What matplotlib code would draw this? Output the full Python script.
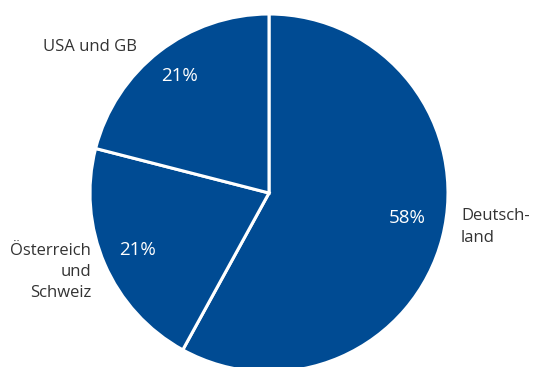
import matplotlib
matplotlib.use("Agg")
import matplotlib.pyplot as plt

categories = ["Deutsch-\nland", "Österreich\nund\nSchweiz", "USA und GB"]
values = [58, 21, 21]
pct_labels = ["58%", "21%", "21%"]

color = "#004B93"
plt.rcParams['font.family'] = ['Open Sans', 'DejaVu Sans']

fig = plt.figure(figsize=(5.34, 3.67), dpi=100)
ax = fig.add_axes([0, 0, 1, 1])

cx, cy, r = 269, 193, 179
# y axis is inverted, so startangle=-90 points up and counterclock appears clockwise
wedges, _ = ax.pie(values, center=(cx, cy), radius=r, startangle=-90, counterclock=True,
                   colors=[color] * 3,
                   wedgeprops=dict(edgecolor='white', linewidth=2.2), frame=True)
ax.set_xlim(0, 534)
ax.set_ylim(367, 0)
ax.set_aspect('equal')
ax.axis('off')

ax.text(407, 218, pct_labels[0], color='white', fontsize=13.5, ha='center', va='center')
ax.text(138, 250, pct_labels[1], color='white', fontsize=13.5, ha='center', va='center')
ax.text(180, 76, pct_labels[2], color='white', fontsize=13.5, ha='center', va='center')

ax.text(461, 227, categories[0], color='#333333', fontsize=12, ha='left', va='center',
        linespacing=1.45)
ax.text(91, 272, categories[1], color='#333333', fontsize=12, ha='right', va='center',
        linespacing=1.45, multialignment='right')
ax.text(90, 47, categories[2], color='#333333', fontsize=12, ha='center', va='center')

fig.savefig("out.png", dpi=100)
